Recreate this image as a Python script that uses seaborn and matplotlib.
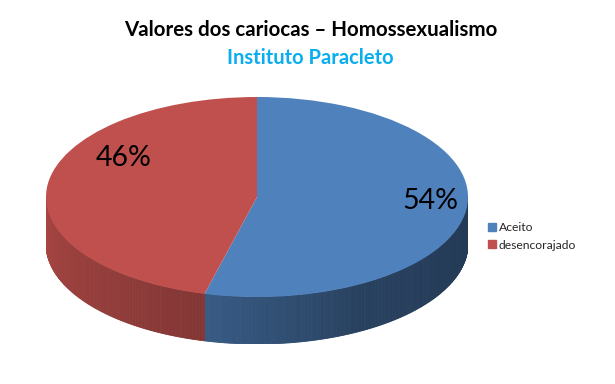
import numpy as np
import matplotlib
matplotlib.use("Agg")
import matplotlib.pyplot as plt
import matplotlib.colors as mcolors
import seaborn as sns
from matplotlib.patches import Polygon
from matplotlib.lines import Line2D

# ---- data ----
categories = ["Aceito", "desencorajado"]
values = [54, 46]
colors = ["#4F81BD", "#C0504D"]
title = "Valores dos cariocas – Homossexualismo"
subtitle = "Instituto Paracleto"

sns.set_theme(style="white")
plt.rcParams['font.family'] = ['Lato', 'DejaVu Sans']

fig = plt.figure(figsize=(6.15, 3.84), dpi=100)
fig.patch.set_facecolor("white")
depth = 0.47
ax = fig.add_axes([46/615, (384-344)/384, 422/615, 247/384])

wedges, texts, autotexts = ax.pie(values, colors=colors, startangle=90,
                                  counterclock=False, radius=1,
                                  autopct=lambda p: f"{p:.0f}%",
                                  wedgeprops=dict(linewidth=0),
                                  textprops=dict(fontsize=20.5, color="black"))
for w in wedges:
    w.set_zorder(3)
ax.set_aspect('auto')
ax.set_xlim(-1, 1)
ax.set_ylim(-1 - depth, 1)
ax.axis('off')

# label positions (layout)
label_pos = [(0.82, -0.04), (-0.63, 0.39)]
for t, p in zip(autotexts, label_pos):
    t.set_position(p)
    t.set_zorder(5)

# side walls with shading gradient, front half only
def side_colors(base, t):
    rgb = np.array(mcolors.to_rgb(base))
    f = np.interp(t, [180, 255, 256, 300, 360], [0.88, 0.68, 0.70, 0.50, 0.45])
    return tuple(rgb * f)

bounds = []
start = 90.0
for v in values:
    end = start - 360 * v / sum(values)
    bounds.append((end, start))
    start = end

for (lo, hi), c in zip(bounds, colors):
    lo_n, hi_n = lo % 360, hi % 360
    spans = []
    if lo_n < hi_n:
        spans.append((lo_n, hi_n))
    else:
        spans.append((lo_n, 360)); spans.append((0, hi_n))
    for s0, s1 in spans:
        a0, a1 = max(s0, 180), min(s1, 360)
        if a1 <= a0:
            continue
        ts = np.linspace(a0, a1, int((a1 - a0) * 2) + 2)
        for i in range(len(ts) - 1):
            tt = np.radians([ts[i], ts[i+1]])
            xs = np.cos(tt); ys = np.sin(tt)
            poly = [(xs[0], ys[0]), (xs[1], ys[1]), (xs[1], ys[1] - depth), (xs[0], ys[0] - depth)]
            col = side_colors(c, (ts[i] + ts[i+1]) / 2)
            ax.add_patch(Polygon(poly, closed=True, facecolor=col, edgecolor=col,
                                 linewidth=0.6, zorder=2))

fig.text(0.505, 0.922, title, ha="center", va="center", fontsize=14.8,
         fontweight="bold", color="black")
fig.text(0.505, 0.848, subtitle, ha="center", va="center", fontsize=14.5,
         fontweight="bold", color="#0AAEEE")

handles = [Line2D([0], [0], marker='s', linestyle='', markersize=6,
                  markerfacecolor=c, markeredgecolor=c) for c in colors]
fig.legend(handles, categories, loc="upper left", bbox_to_anchor=(0.772, 0.45),
           frameon=False, fontsize=8.7, handletextpad=0.1, labelspacing=0.55,
           handlelength=1.0)

fig.savefig("out.png", dpi=100, facecolor="white")
